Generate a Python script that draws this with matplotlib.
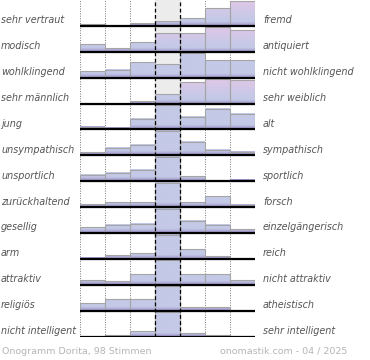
import matplotlib.pyplot as plt
import matplotlib.transforms as mtransforms
import numpy as np
from matplotlib.colors import to_rgb

# word pairs (left / right end of each scale)
left_labels = [
    "sehr vertraut", "modisch", "wohlklingend", "sehr männlich", "jung",
    "unsympathisch", "unsportlich", "zurückhaltend", "gesellig", "arm",
    "attraktiv", "religiös", "nicht intelligent",
]
right_labels = [
    "fremd", "antiquiert", "nicht wohlklingend", "sehr weiblich", "alt",
    "sympathisch", "sportlich", "forsch", "einzelgängerisch", "reich",
    "nicht attraktiv", "atheistisch", "sehr intelligent",
]

# share of votes per step (in % of the row maximum), 7 steps per row
scores = [
    [7, 0, 11, 20, 31, 72, 100],
    [30, 14, 38, 76, 76, 100, 88],
    [27, 33, 65, 57, 100, 72, 72],
    [0, 0, 12, 39, 88, 100, 98],
    [10, 5, 42, 100, 50, 84, 63],
    [12, 29, 44, 100, 54, 24, 14],
    [26, 35, 46, 100, 20, 0, 7],
    [12, 20, 20, 100, 20, 44, 11],
    [24, 33, 37, 100, 50, 34, 15],
    [5, 15, 23, 100, 39, 11, 0],
    [18, 15, 43, 100, 43, 43, 20],
    [30, 47, 47, 100, 14, 14, 0],
    [0, 5, 24, 100, 16, 8, 4],
]

footer_left = "Onogramm Dorita, 98 Stimmen"
footer_right = "onomastik.com - 04 / 2025"

pink_rows = [0, 1, 3]  # rows whose tall bars get the pink tint

fig = plt.figure(figsize=(3.7, 3.6), dpi=100)
ax = fig.add_axes([80 / 370, (360 - 336.7) / 360, 175 / 370, 336.7 / 360])
n = len(scores)

ax.axvspan(3, 4, color="#ececec", zorder=0)
for x in [0, 1, 2, 5, 6, 7]:
    ax.axvline(x, color="#777777", lw=0.7, ls=(0, (1, 1.5)), zorder=1)

purple = np.array(to_rgb("#9a8fc6"))
blue = np.array(to_rgb("#c4c9e7"))
pink = np.array(to_rgb("#dfc7e7"))
full = 0.945

trans = mtransforms.blended_transform_factory(fig.transFigure, ax.transData)

for r, row in enumerate(scores):
    base = n - 1 - r
    h = np.array(row) / 100 * full
    bars = ax.bar(np.arange(7) + 0.5, h, width=1, bottom=base, color="none",
                  edgecolor="#a5a5a5", lw=0.8, zorder=3)
    for c, hh in enumerate(h):
        if hh <= 0:
            continue
        ys = np.linspace(0, hh, 60)
        t = np.clip(ys / 0.16, 0, 1)[:, None]
        col = purple * (1 - t) + blue * t
        if r in pink_rows and row[c] >= 60:
            s = np.clip((ys - 0.25) / (full - 0.25), 0, 1)[:, None]
            col = col * (1 - s) + pink * s
        ax.imshow(col[::-1][:, None, :], extent=(c, c + 1, base, base + hh),
                  aspect="auto", interpolation="bilinear", zorder=2)
    ax.hlines(base, 0, 7, color="black", lw=1.6, zorder=4)

    ax.text(1 / 370, base + 0.22, left_labels[r], transform=trans, ha="left",
            va="center", style="italic", color="#555555", fontsize=6.9)
    ax.text(263 / 370, base + 0.22, right_labels[r], transform=trans, ha="left",
            va="center", style="italic", color="#555555", fontsize=6.9)

for x in [3, 4]:
    ax.axvline(x, color="black", lw=0.9, ls=(0, (3, 2)), zorder=5)

ax.set_xlim(0, 7)
ax.set_ylim(0, n)
ax.axis("off")

fig.text(2 / 370, 1 - 351 / 360, footer_left, color="#b5b5b5", fontsize=6.8,
         va="center", ha="left")
fig.text(347 / 370, 1 - 351 / 360, footer_right, color="#b5b5b5", fontsize=6.8,
         va="center", ha="right")

fig.savefig("out.png", dpi=100)
